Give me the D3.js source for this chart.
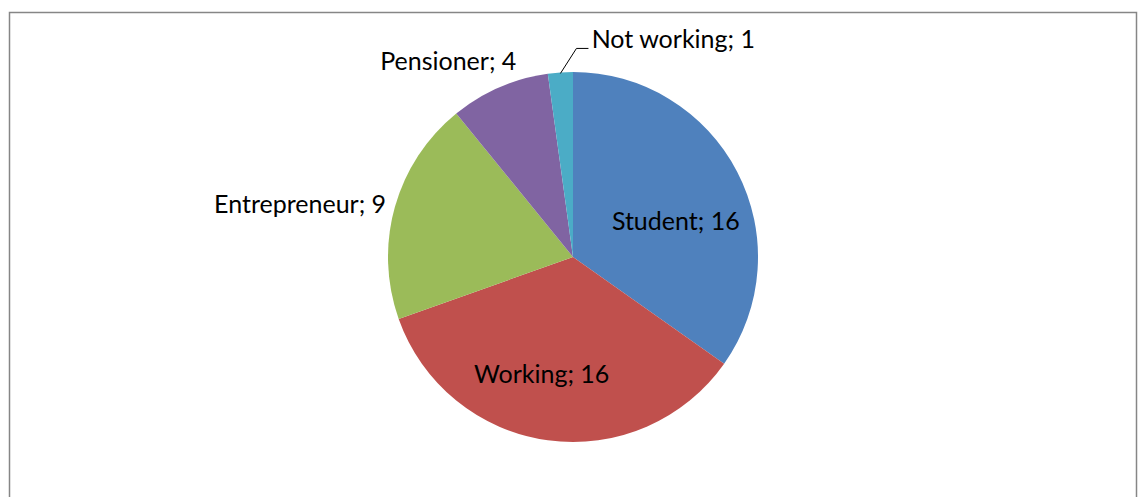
<!DOCTYPE html>
<html>
<head>
<meta charset="utf-8">
<script src="https://cdn.jsdelivr.net/npm/d3@7"></script>
<style>
  body { margin: 0; background: #fff; }
  svg { display: block; }
</style>
</head>
<body>
<script>
// categories and values
var categories = ["Student", "Working", "Entrepreneur", "Pensioner", "Not working"];
var values = [16, 16, 9, 4, 1];
var colours = ["#4F81BD", "#C0504D", "#9BBB59", "#8064A2", "#4BACC6"];

var width = 1138, height = 497;
var cx = 573, cy = 257, radius = 185;

var svg = d3.select("body").append("svg")
    .attr("width", width)
    .attr("height", height);

// chart frame (bottom goes past the window)
svg.append("rect")
    .attr("x", 9.5)
    .attr("y", 12.5)
    .attr("width", 1127)
    .attr("height", 500)
    .attr("fill", "none")
    .attr("stroke", "#868686")
    .attr("stroke-width", 1.5);

var data = categories.map(function(c, i) {
    return { name: c, value: values[i], colour: colours[i] };
});

var pie = d3.pie()
    .sort(null)
    .value(function(d) { return d.value; });

var arc = d3.arc().innerRadius(0).outerRadius(radius);

var g = svg.append("g").attr("transform", "translate(" + cx + "," + cy + ")");

var arcs = pie(data);

g.selectAll("path")
    .data(arcs)
    .enter()
    .append("path")
    .attr("d", arc)
    .attr("fill", function(d) { return d.data.colour; });

// point at radius r along the middle of a slice
function midPoint(d, r) {
    var a = (d.startAngle + d.endAngle) / 2;
    return [r * Math.sin(a), -r * Math.cos(a)];
}

// label placement, as Excel draws it
var labelSpots = [
    { r: 118, dx: -2, dy: 27, anchor: "middle" },
    { r: 120, dx: -15, dy: 7, anchor: "middle" },
    { r: 192, dx: -2, dy: 8, anchor: "end" },
    { r: 200, dx: 23, dy: -4, anchor: "end" },
    { r: 210, dx: 33, dy: 0, anchor: "start" }
];

g.selectAll("text.label")
    .data(arcs)
    .enter()
    .append("text")
    .attr("class", "label")
    .attr("x", function(d, i) { return midPoint(d, labelSpots[i].r)[0] + labelSpots[i].dx; })
    .attr("y", function(d, i) { return midPoint(d, labelSpots[i].r)[1] + labelSpots[i].dy; })
    .attr("text-anchor", function(d, i) { return labelSpots[i].anchor; })
    .attr("font-family", "Lato, 'Noto Sans', sans-serif")
    .attr("font-size", "25px")
    .attr("fill", "#000")
    .text(function(d) { return d.data.name + "; " + d.data.value; });

// leader line for the small slice
var small = arcs[4];
var p0 = midPoint(small, radius - 1);
var lead = [p0, [p0[0] + 16, p0[1] - 25], [p0[0] + 28, p0[1] - 25]];
g.append("path")
    .attr("d", d3.line()(lead))
    .attr("fill", "none")
    .attr("stroke", "#000")
    .attr("stroke-width", 1);
</script>
</body>
</html>
